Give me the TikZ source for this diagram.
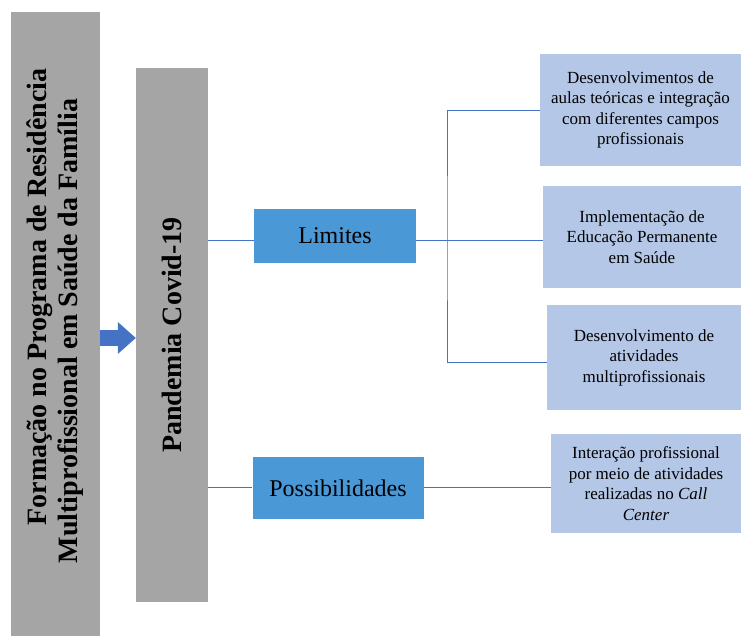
\documentclass[tikz,border=0pt]{standalone}
\usepackage{fontspec}
\setmainfont{Liberation Serif}
\usetikzlibrary{arrows.meta}
\definecolor{boxgray}{HTML}{A5A5A5}
\definecolor{midblue}{HTML}{4B98D7}
\definecolor{paleblue}{HTML}{B4C7E7}
\definecolor{linkblue}{HTML}{4472C4}
\begin{document}
\begin{tikzpicture}[x=1pt,y=-1pt]
\tikzstyle{graybox} = [fill=boxgray, inner sep=0pt, rotate=90, align=center, font=\fontsize{28}{31}\selectfont\bfseries]
\tikzstyle{topic} = [fill=midblue, inner sep=0pt, font=\fontsize{24}{28}\selectfont]
\tikzstyle{item} = [fill=paleblue, inner sep=0pt, align=center, font=\fontsize{17}{20.5}\selectfont]
\tikzstyle{link} = [draw=linkblue, line width=0.8pt]
\useasboundingbox (0,0) rectangle (741,636);
% rotated boxes: south is the right side, north the left side
\node[graybox, minimum width=624, minimum height=89] (formacao) at (55.5,324) {\hspace*{54pt}Formação no Programa de Residência\\ Multiprofissional em Saúde da Família\hspace*{14pt}};
\node[graybox, minimum width=534, minimum height=72] (pandemia) at (172,335) {Pandemia Covid-19};
\draw[draw=linkblue, line width=16pt, -{Triangle[length=18pt,width=32pt,line width=0pt]}] (formacao.south |- 0,338) -- (pandemia.north |- 0,338);
\node[topic, minimum width=162, minimum height=54] (limites) at (335,236) {Limites};
\node[topic, minimum width=171, minimum height=62] (possib) at (338,488) {Possibilidades};
\node[item, minimum width=201, minimum height=112] (aulas) at (640.5,110) {Desenvolvimentos de\\ aulas teóricas e integração\\ com diferentes campos\\ profissionais};
\node[item, minimum width=198, minimum height=102] (educacao) at (642,237) {Implementação de\\ Educação Permanente\\ em Saúde};
\node[item, minimum width=194, minimum height=105] (multi) at (644,357.5) {Desenvolvimento de\\ atividades\\ multiprofissionais};
\node[item, minimum width=190, minimum height=99] (callcenter) at (646,483.5) {Interação profissional\\ por meio de atividades\\ realizadas no \emph{Call}\\ \emph{Center}};
\coordinate (fork) at (447,240);
\draw[link] (pandemia.south |- 0,240) -- (limites.west |- 0,240);
\draw[link] (limites.east |- 0,240) -- (educacao.west |- 0,240);
\draw[link] (aulas.west) -| (fork) |- (multi.west |- 0,362);
\draw[link] (pandemia.south |- 0,487) -- (possib.west |- 0,487);
\draw[link] (possib.east |- 0,487) -- (callcenter.west |- 0,487);
\end{tikzpicture}
\end{document}
